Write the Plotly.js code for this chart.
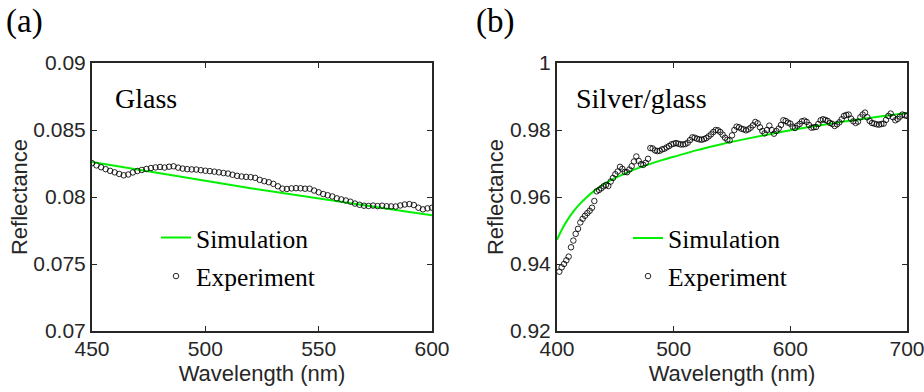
<!DOCTYPE html>
<html>
<head>
<meta charset="utf-8">
<script src="https://cdn.plot.ly/plotly-3.0.1.min.js"></script>
<style>html,body{margin:0;padding:0;background:#fff;}#chart{width:924px;height:392px;}</style>
</head>
<body>
<div id="chart"></div>
<script>
// ---------- Panel (a): Glass ----------
const simAx = [450,460,470,480,490,500,510,520,530,540,550,560,570,580,590,600];
const simAy = [0.08262,0.08233,0.08204,0.08176,0.08148,0.08120,0.08093,0.08066,0.08040,0.08014,0.07988,0.07963,0.07938,0.07913,0.07888,0.07864];
const expAx = [450,452,454,456,458,460,462,464,466,468,470,472,474,476,478,480,482,484,486,488,490,492,494,496,498,500,502,504,506,508,510,512,514,516,518,520,522,524,526,528,530,532,534,536,538,540,542,544,546,548,550,552,554,556,558,560,562,564,566,568,570,572,574,576,578,580,582,584,586,588,590,592,594,596,598,600];
const expAy = [0.08252,0.08236,0.08222,0.08208,0.08195,0.08184,0.08172,0.08162,0.08168,0.08183,0.08194,0.08202,0.08209,0.08216,0.08221,0.08224,0.08220,0.08226,0.08229,0.08219,0.08212,0.08208,0.08206,0.08205,0.08200,0.08196,0.08193,0.08189,0.08184,0.08179,0.08175,0.08166,0.08158,0.08153,0.08150,0.08148,0.08143,0.08128,0.08118,0.08110,0.08098,0.08080,0.08062,0.08060,0.08064,0.08066,0.08065,0.08062,0.08062,0.08048,0.08035,0.08022,0.08013,0.08004,0.07990,0.07982,0.07974,0.07965,0.07951,0.07942,0.07935,0.07933,0.07936,0.07932,0.07935,0.07931,0.07930,0.07929,0.07937,0.07944,0.07947,0.07940,0.07920,0.07908,0.07915,0.07920];
const aXTicks = [450,500,550,600];
const aXTickText = ["450","500","550","600"];
const aYTicks = [0.07,0.075,0.08,0.085,0.09];
const aYTickText = ["0.07","0.075","0.08","0.085","0.09"];

// ---------- Panel (b): Silver/glass ----------
const simBx = [400,405,410,415,420,425,430,435,440,450,460,470,480,490,500,520,540,560,580,600,620,640,660,680,700];
const simBy = [0.9472,0.9508,0.9537,0.9561,0.9581,0.9598,0.9613,0.9626,0.9638,0.9657,0.9673,0.9687,0.9699,0.9710,0.9720,0.9740,0.9757,0.9772,0.9786,0.9799,0.9811,0.9822,0.9832,0.9842,0.9851];
const expBx = [402,404,406,408,410,412,414,416,418,420,422,424,426,428,430,432,434,436,438,440,442,444,446,448,450,452,454,456,458,460,462,464,466,468,470,472,474,476,478,480,482,484,486,488,490,492,494,496,498,500,502,504,506,508,510,512,514,516,518,520,522,524,526,528,530,532,534,536,538,540,542,544,546,548,550,552,554,556,558,560,562,564,566,568,570,572,574,576,578,580,582,584,586,588,590,592,594,596,598,600,602,604,606,608,610,612,614,616,618,620,622,624,626,628,630,632,634,636,638,640,642,644,646,648,650,652,654,656,658,660,662,664,666,668,670,672,674,676,678,680,682,684,686,688,690,692,694,696,698,700];
const expBy = [0.9377,0.9390,0.9400,0.9411,0.9422,0.9450,0.9470,0.9490,0.9505,0.9524,0.9535,0.9544,0.9552,0.9559,0.9568,0.9588,0.9617,0.9621,0.9626,0.9632,0.9636,0.9633,0.9646,0.9657,0.9668,0.9676,0.9690,0.9684,0.9675,0.9674,0.9682,0.9692,0.9706,0.9721,0.9708,0.9698,0.9696,0.9702,0.9714,0.9746,0.9745,0.9739,0.9737,0.9738,0.9742,0.9744,0.9748,0.9752,0.9757,0.9759,0.9761,0.9759,0.9757,0.9757,0.9758,0.9762,0.9770,0.9778,0.9777,0.9774,0.9772,0.9771,0.9773,0.9776,0.9781,0.9787,0.9794,0.9800,0.9799,0.9794,0.9786,0.9777,0.9771,0.9769,0.9784,0.9800,0.9810,0.9808,0.9804,0.9802,0.9799,0.9802,0.9807,0.9814,0.9824,0.9820,0.9808,0.9797,0.9790,0.9800,0.9813,0.9800,0.9789,0.9797,0.9804,0.9815,0.9829,0.9827,0.9822,0.9819,0.9810,0.9806,0.9813,0.9818,0.9826,0.9828,0.9824,0.9815,0.9807,0.9808,0.9809,0.9818,0.9829,0.9832,0.9830,0.9827,0.9821,0.9818,0.9812,0.9817,0.9823,0.9832,0.9842,0.9845,0.9846,0.9834,0.9826,0.9821,0.9825,0.9838,0.9846,0.9852,0.9838,0.9827,0.9821,0.9819,0.9817,0.9816,0.9818,0.9819,0.9830,0.9842,0.9849,0.9838,0.9829,0.9833,0.9840,0.9846,0.9844,0.9842];
const bXTicks = [400,500,600,700];
const bXTickText = ["400","500","600","700"];
const bYTicks = [0.92,0.94,0.96,0.98,1];
const bYTickText = ["0.92","0.94","0.96","0.98","1"];

const seriesNames = ["Simulation","Experiment"];
const panelLabels = ["(a)","(b)"];
const materialLabels = ["Glass","Silver/glass"];
const xTitle = "Wavelength (nm)";
const yTitle = "Reflectance";

// ---------- styling ----------
const GREEN = "#00f000";
const AXC = "#262626";
const SANS = "Liberation Sans, Arial, Helvetica, sans-serif";
const SERIF = "Liberation Serif, Times New Roman, serif";

const lineStyle = {color: GREEN, width: 2};
const markerStyle = {symbol: "circle-open", size: 5.5, color: "#000", line: {color: "#000", width: 0.85}};

const traces = [
  {x: simAx, y: simAy, xaxis: "x", yaxis: "y", mode: "lines", name: seriesNames[0], line: lineStyle, legend: "legend"},
  {x: expAx, y: expAy, xaxis: "x", yaxis: "y", mode: "markers", name: seriesNames[1], marker: markerStyle, legend: "legend2"},
  {x: simBx, y: simBy, xaxis: "x2", yaxis: "y2", mode: "lines", name: seriesNames[0], line: Object.assign({}, lineStyle, {shape: "spline"}), legend: "legend3"},
  {x: expBx, y: expBy, xaxis: "x2", yaxis: "y2", mode: "markers", name: seriesNames[1], marker: markerStyle, legend: "legend4"}
];

function axisBase(extra) {
  return Object.assign({
    showline: true, linecolor: AXC, linewidth: 2, mirror: "ticks",
    ticks: "inside", ticklen: 5, tickwidth: 1, tickcolor: AXC,
    showgrid: false, zeroline: false, automargin: false,
    tickmode: "array", ticklabeloverflow: "allow",
    tickfont: {family: SANS, size: 21, color: AXC}
  }, extra);
}

// paper geometry: plot box 92..907 x 63..331
const L = 92, R = 17, T = 63, B = 61, W = 924, H = 392;
const PW = W - L - R, PH = H - T - B;
const px2x = p => (p - L) / PW;
const py2y = p => (H - B - p) / PH;

function legendAt(px, py) {
  return {x: px2x(px), y: py2y(py), xanchor: "left", yanchor: "middle",
    bgcolor: "rgba(0,0,0,0)", borderwidth: 0, itemwidth: 30,
    font: {family: SERIF, size: 25.5, color: "#000"}};
}

const titleFont = {family: SANS, size: 22, color: AXC};

const layout = {
  width: W, height: H,
  margin: {l: L, r: R, t: T, b: B, pad: 0},
  paper_bgcolor: "#fff", plot_bgcolor: "#fff",
  showlegend: true,
  xaxis: axisBase({domain: [0, px2x(432)], range: [450, 600], tickvals: aXTicks, ticktext: aXTickText, anchor: "y", ticklabelstandoff: -2,
    title: {text: xTitle, font: titleFont, standoff: 6}}),
  yaxis: axisBase({domain: [0, 1], range: [0.07, 0.09], tickvals: aYTicks, ticktext: aYTickText, anchor: "x",
    title: {text: yTitle, font: titleFont, standoff: 0}}),
  xaxis2: axisBase({domain: [px2x(557), 1], range: [400, 700], tickvals: bXTicks, ticktext: bXTickText, anchor: "y2", ticklabelstandoff: -2,
    title: {text: xTitle, font: titleFont, standoff: 6}}),
  yaxis2: axisBase({domain: [0, 1], range: [0.92, 1], tickvals: bYTicks, ticktext: bYTickText, anchor: "x2",
    title: {text: yTitle, font: titleFont, standoff: 0}}),
  legend: legendAt(156, 238),
  legend2: legendAt(156, 276.5),
  legend3: legendAt(628, 238.3),
  legend4: legendAt(628, 276.5),
  annotations: [
    {text: panelLabels[0], xref: "paper", yref: "paper", x: px2x(4), y: py2y(22), xanchor: "left", yanchor: "middle", showarrow: false, font: {family: SERIF, size: 33, color: "#000"}},
    {text: panelLabels[1], xref: "paper", yref: "paper", x: px2x(474), y: py2y(22), xanchor: "left", yanchor: "middle", showarrow: false, font: {family: SERIF, size: 33, color: "#000"}},
    {text: materialLabels[0], xref: "paper", yref: "paper", x: px2x(113), y: py2y(98), xanchor: "left", yanchor: "middle", showarrow: false, font: {family: SERIF, size: 28, color: "#000"}},
    {text: materialLabels[1], xref: "paper", yref: "paper", x: px2x(574), y: py2y(98), xanchor: "left", yanchor: "middle", showarrow: false, font: {family: SERIF, size: 28, color: "#000"}}
  ]
};

Plotly.newPlot("chart", traces, layout, {staticPlot: true, displayModeBar: false});
</script>
</body>
</html>
